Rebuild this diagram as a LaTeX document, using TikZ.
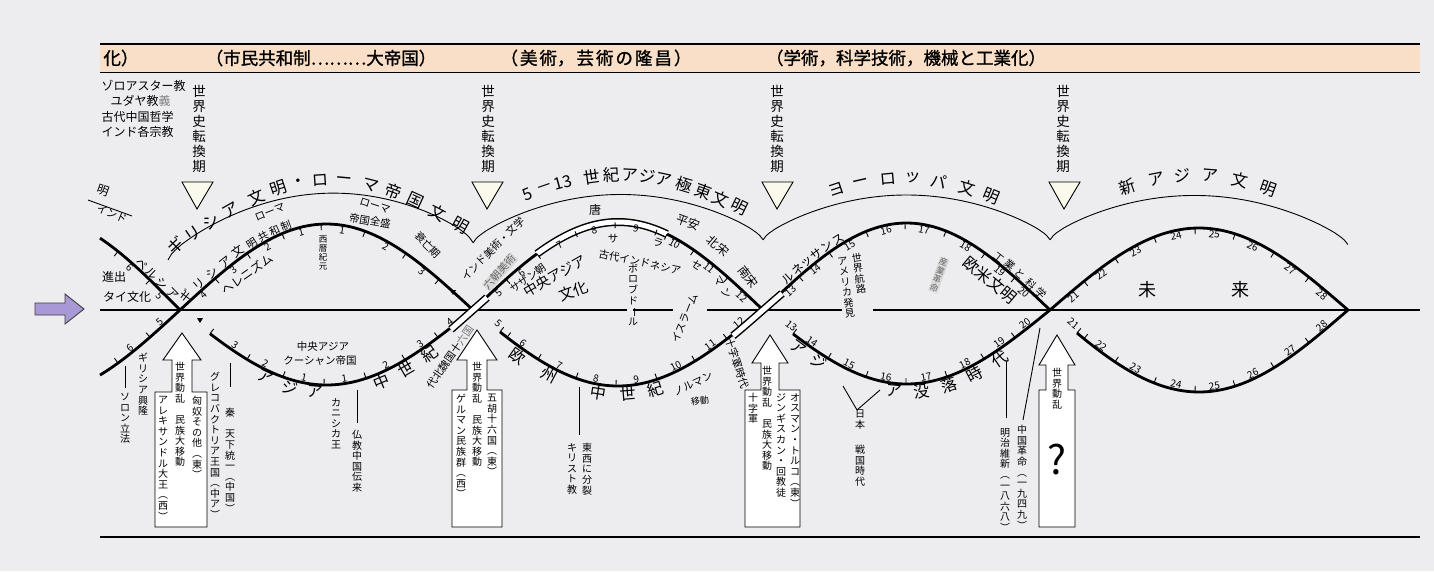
\documentclass[tikz,border=0pt]{standalone}
\usepackage{fontspec}
\setmainfont{Noto Sans CJK JP}
\newfontfamily\vfont{Noto Sans CJK JP}
\newfontfamily\hdfont[FakeBold=1.2]{Noto Sans CJK JP}
\definecolor{bgc}{RGB}{237,237,240}
\definecolor{peach}{RGB}{249,223,200}
\definecolor{purp}{RGB}{168,152,214}
\definecolor{trif}{RGB}{250,250,236}
\makeatletter
\def\vs@a#1{#1\vs@b}
\def\vs@b#1{\ifx\relax#1\else\\#1\expandafter\vs@b\fi}
\newcommand\vtxt[1]{\vs@a#1\relax}
\makeatother
\newcommand\vb{\rotatebox[origin=c]{-90}{ー}}
\newcount\lblc
\newcommand\onarc[8]{%
 \pgfmathsetmacro\myT{((#6)-(#1))/(#3)}%
 \pgfmathsetmacro\myY{(#2)+(#4)*\myT-(#5)*sin(180*\myT)}%
 \pgfmathsetmacro\myA{-atan(((#4)-(#5)*pi*cos(180*\myT))/(#3))}%
 \global\advance\lblc by 1
 \node[rotate=\myA,#7] (l\the\lblc) at (#6,\myY) {#8};}
\newcommand\onL[4]{\expandafter\onarc#1{#2}{#3}{#4}}
\newcommand\tickm[7]{%
 \pgfmathsetmacro\myT{((#6)-(#1))/(#3)}%
 \pgfmathsetmacro\myY{(#2)+(#4)*\myT-(#5)*sin(180*\myT)}%
 \pgfmathsetmacro\myA{-atan(((#4)-(#5)*pi*cos(180*\myT))/(#3))}%
 \draw[tkst] (#6,\myY) -- ++({(#7)*6*sin(\myA)},{(#7)*6*cos(\myA)});}
\newcommand\tkm[3]{\expandafter\tickm#1{#2}{#3}}
\newcommand\darcI[8]{\draw[#8] plot[domain=#6:#7,samples=70,variable=\t] (\t,{(#2)+(#4)*((\t-(#1))/(#3))-(#5)*sin(((\t-(#1))/(#3))*180)});}
\newcommand\darc[4]{\expandafter\darcI#1{#2}{#3}{#4}}
% flattened arc (power 0.7) for the thin outer arcs
\newcommand\dthinI[5]{\draw[thn] plot[domain=0:1,samples=90,variable=\t] ({(#1)+(#3)*\t},{(#2)+(#4)*\t-(#5)*(max(sin(\t*180),0.00001))^0.7});}
\newcommand\dthin[1]{\expandafter\dthinI#1}
% lens parameters: x0, y0, width, end-rise, amplitude
\def\LzU{{-113}{310}{293}{0}{95}}
\def\LzL{{-113}{310}{293}{0}{-86}}
\def\LaU{{180}{310}{293}{0}{86}}
\def\LaL{{180}{310}{293}{0}{-75}}
\def\LbU{{473}{310}{290}{0}{88}}
\def\LbL{{473}{310}{290}{0}{-76}}
\def\LcU{{763}{310}{287}{0}{87}}
\def\LcL{{763}{310}{287}{0}{-74}}
\def\LdU{{1050}{310}{298}{0}{82}}
\def\LdL{{1050}{310}{298}{0}{-82}}
\def\NbX{{473}{310}{290}{0}{82}}
\def\NcX{{763}{310}{287}{0}{80}}
% thin outer arcs
\def\OaU{{168}{260}{305}{-17}{58}}
\def\ObU{{473}{243}{290}{-3}{47}}
\def\OcU{{763}{240}{287}{0}{45}}
\def\OdU{{1050}{240}{298}{5}{47}}
% text lines above the thin arcs
\def\TaU{{170}{250}{300}{-20}{60}}
\def\TbU{{440}{240}{360}{0}{65}}
\def\TcU{{735}{240}{340}{0}{62}}
\def\TdU{{1020}{240}{350}{0}{65}}
\newcommand\wdarrow[8]{% cx, tipy, hw, hb, sw, bb, bx1, bx2
 \draw[fill=white, line width=0.9pt] (#1,#2) -- ({#1+#3},#4) -- ({#1+#5},#4) -- ({#1+#5},#6) -- (#8,#6) -- (#8,527) -- (#7,527) -- (#7,#6) -- ({#1-#5},#6) -- ({#1-#5},#4) -- ({#1-#3},#4) -- cycle;}
\begin{document}
\begin{tikzpicture}[x=1pt,y=-1pt,
 thk/.style={line width=2.8pt},
 thn/.style={line width=0.9pt},
 tkst/.style={line width=0.9pt},
 num/.style={font=\fontsize{10}{11}\selectfont, inner sep=0.3pt, outer sep=1.2pt},
 lab/.style={font=\fontsize{12}{13}\selectfont, inner sep=0.3pt},
 sml/.style={font=\fontsize{10.5}{11.5}\selectfont, inner sep=0.3pt},
 big/.style={font=\fontsize{16}{18}\selectfont, inner sep=0.3pt, outer sep=2pt},
 bigc/.style={font=\fontsize{16.5}{18}\selectfont, inner sep=0pt},
 hd/.style={font=\hdfont\fontsize{17.5}{19}\selectfont, inner sep=0pt},
 vs/.style={align=center, inner sep=0pt, anchor=north, font=\vfont\fontsize{10}{10.6}\selectfont},
 vm/.style={align=center, inner sep=0pt, anchor=north, font=\vfont\fontsize{13.5}{15}\selectfont},
 hl/.style={text=black!60, fill=black!15, inner sep=0.5pt},
 trist/.style={draw, fill=trif, line width=0.9pt}]
\fill[bgc] (0,0) rectangle (1434,571);
\useasboundingbox (0,0) rectangle (1434,571);
% header band
\fill[peach] (100,44) rectangle (1420,72);
\draw[line width=1.6pt] (100,44) -- (1420,44);
\draw[line width=1.6pt] (100,72.5) -- (1420,72.5);
\node[hd] (h1) at (121,58) {化）};
\node[hd] (h2) at (321,58) {（市民共和制………大帝国）};
\node[hd] (h3) at (596,58) {（\kern2pt 美\kern2pt 術，\kern2pt 芸\kern2pt 術\kern2pt の\kern2pt 隆\kern2pt 昌\kern2pt ）};
\node[hd] (h4) at (906,58) {（学術，科学技術，機械と工業化）};
\draw[line width=1.6pt] (100,537) -- (1420,537);
% religions
\node[lab, anchor=west] (r1) at (101,86) {ゾロアスター教};
\node[lab, anchor=west] (r2) at (110,101) {ユダヤ教\textcolor{black!50}{義}};
\node[lab, anchor=west] (r3) at (101,117) {古代中国哲学};
\node[lab, anchor=west] (r4) at (101,132) {インド各宗教};
% turning points
\foreach \cx/\tx [count=\i] in {197/199,487/488,777/777,1064/1063}{
 \node[vm] (tp\i) at (\tx,85) {\vtxt{世界史転換期}};
 \draw[trist] ({\cx-15},182) -- ({\cx+16},182) -- (\cx,209) -- cycle;}
% axis
\draw[line width=1.3pt] (100,310) -- (627,310) (633,310) -- (673,310) (707,310) -- (842,310) (873,310) -- (1420,310);
% purple arrow
\draw[fill=purp, draw=black!75, line width=0.9pt] (35,303) -- (65,303) -- (65,294) -- (84,309) -- (65,324) -- (65,315) -- (35,315) -- cycle;
% outer thin arcs
\draw[thn] (88,200) -- (132,216);
\dthin\OaU
\dthin\ObU
\dthin\OcU
\dthin\OdU
\node[lab, rotate=-20] (m1) at (103,191) {明};
\node[sml, rotate=-22] (m2) at (112,214) {インド};
% outer texts
\foreach \x/\c in {176/ギ,193/リ,211/シ,231/ア,256/文,279/明,299/・,320/ロ,344/ー,371/マ,393/帝,415/国,438/文,461/明}{\onL\TaU{\x}{bigc}{\c}}
\foreach \x/\c in {528/5,545/－,563/13,592/世,611/紀,630/ア,647/ジ,664/ア,684/極,703/東,721/文,739/明}{\onL\TbU{\x}{bigc}{\c}}
\foreach \x/\c in {837/ヨ,861/ー,888/ロ,913/ッ,939/パ,967/文,991/明}{\onL\TcU{\x}{bigc}{\c}}
\foreach \x/\c in {1127/新,1156/ア,1182/ジ,1210/ア,1240/文,1268/明}{\onL\TdU{\x}{bigc}{\c}}
% thick curves
\darc\LzU{100}{180}{thk}
\darc\LzL{100}{180}{thk}
\darc\LaU{180}{473}{thk}
\darc\LaL{210}{473}{thk}
\darc\LbU{473}{763}{thk}
\darc\LbL{500}{763}{thk}
\darc\LcU{763}{1050}{thk}
\darc\LcL{793}{1050}{thk}
\darc\LdU{1050}{1348}{thk}
\darc\LdL{1077}{1348}{thk}
% hooks at starts
\tkm\LaL{210}{-1}
\tkm\LbL{500}{-1}
\tkm\LcL{793}{-1}
\tkm\LdL{1077}{-1}
% period bars
\darc\NbX{451}{487}{line width=8pt}
\darc\NbX{451}{487}{line width=5pt, white}
\darc\LbU{537}{667}{line width=8pt}
\darc\LbU{537}{667}{line width=5pt, white}
\darc\NcX{733}{782}{line width=8pt}
\darc\NcX{733}{782}{line width=5pt, white}
% ticks
\foreach \x in {118,150}{\tkm\LzU{\x}{1}\tkm\LzL{\x}{-1}}
\foreach \x in {215,247,282,321,365,406,439}{\tkm\LaU{\x}{1}}
\foreach \x in {247,283,324,366,405,438}{\tkm\LaL{\x}{-1}}
\foreach \x in {506,537,575,615,657,694,728}{\tkm\LbU{\x}{1}}
\foreach \x in {507,538,576,616,657,695,727}{\tkm\LbL{\x}{-1}}
\foreach \x in {799,829,866,905,946,985,1015}{\tkm\LcU{\x}{1}}
\foreach \x in {828,866,906,947,984,1015}{\tkm\LcL{\x}{-1}}
\foreach \x in {1084,1115,1154,1195,1235,1274,1309}{\tkm\LdU{\x}{1}\tkm\LdL{\x}{-1}}
\tkm\LbU{667}{1}
% numbers
\foreach \x/\n in {133/6,163/5}{\onL\LzU{\x}{num,anchor=north}{\n}}
\foreach \x/\n in {133/6,163/5}{\onL\LzL{\x}{num,anchor=south}{\n}}
\foreach \x/\n in {200/4,230/3,265/2,300/1,343/1,388/2,425/3}{\onL\LaU{\x}{num,anchor=north}{\n}}
\foreach \x/\n in {232/3,263/2,303/1,345/1,388/2,423/3,453/4}{\onL\LaL{\x}{num,anchor=south}{\n}}
\foreach \x/\n in {495/5,518/6,557/7,593/8,637/9,677/10,712/11,745/12}{\onL\LbU{\x}{num,anchor=north}{\n}}
\foreach \x/\n in {495/5,520/6,557/7,595/8,637/9,678/10,713/11,742/12}{\onL\LbL{\x}{num,anchor=south}{\n}}
\foreach \x/\n in {787/13,812/14,847/15,885/16,925/17,968/18,1003/19,1027/20}{\onL\LcU{\x}{num,anchor=north}{\n}}
\foreach \x/\n in {788/13,809/14,847/15,885/16,927/17,967/18,1002/19,1028/20}{\onL\LcL{\x}{num,anchor=south}{\n}}
\foreach \x/\n in {1070/21,1098/22,1133/23,1175/24,1215/25,1255/26,1293/27,1325/28}{\onL\LdU{\x}{num,anchor=north}{\n}\onL\LdL{\x}{num,anchor=south}{\n}}
\fill (197,318) -- (203,318) -- (200,323) -- cycle;
\fill (450,290) -- (456,290) -- (453,295) -- cycle;
% lens 0 labels
\foreach \x/\c in {138/ペ,148/ル,158/シ,168/ア}{\onL\LzU{\x}{lab,anchor=south,outer sep=1pt}{\c}}
\node[lab] (p1) at (114,277) {進出};
\node[lab] (p2) at (127,297) {タイ文化};
% lens 1 labels
\foreach \x/\c in {190/ギ,203/リ,216/シ,229/ア,242/文}{\onL\LaU{\x}{lab,anchor=south,outer sep=1pt}{\c}}
\foreach \x/\c in {255/明,266/共,277/和,288/制}{\onL\LaU{\x}{sml,anchor=south,outer sep=1pt}{\c}}
\node[sml, rotate=22] (g1) at (270,212) {ローマ};
\node[lab, rotate=35] (g2) at (247,274) {ヘレニズム};
\node[sml, rotate=-18] (g3) at (375,206) {ローマ};
\node[sml, rotate=-10] (g4) at (370,221) {帝国全盛};
\node[sml, rotate=-45] (g5) at (428,245) {衰亡期};
\node[vs, font=\vfont\fontsize{8.5}{9}\selectfont] (g6) at (323,236) {\vtxt{西暦紀元}};
\node[sml] (g7) at (323,347) {中央アジア};
\node[sml] (g8) at (320,361) {クーシャン帝国};
\foreach \x/\c in {268/ア,292/ジ,316/ア,378/中,402/世,425/紀}{\onL\LaL{\x}{big,anchor=north,outer sep=1pt}{\c}}
% lens 1 lower verticals
\draw[thn] (125,366) -- (125,388);
\node[vs] (v1) at (125,393) {\vtxt{ソロン立法}};
\node[vs] (v2) at (143,353) {\vtxt{ギリシア興隆}};
\node[vs] (v3) at (215,372) {\vtxt{グレコバクトリア王国︵中ア︶}};
\draw[thn] (230,363) -- (230,387);
\node[vs] (v4) at (230,408) {\vtxt{秦　天下統一︵中国︶}};
\node[vs] (v5) at (336,398) {\vtxt{カニシカ王}};
\draw[thn] (357,390) -- (357,423);
\node[vs] (v6) at (357,430) {\vtxt{仏教中国伝来}};
% lens 2 labels
\node[sml, rotate=45] (a1) at (493,249) {インド美術・文学};
\node[sml, rotate=48, hl] (a2) at (500,272) {六朝美術};
\node[lab] (a3) at (595,210) {唐};
\node[sml, rotate=35] (a4) at (528,278) {サザン朝};
\node[lab, font=\fontsize{14}{15}\selectfont, rotate=30] (a5) at (555,276) {中央アジア};
\node[lab, font=\fontsize{15}{16}\selectfont, rotate=20] (a6) at (574,291) {文化};
\node[sml] (a7) at (613,239) {サ};
\node[sml, rotate=-12] (a8) at (640,262) {古代インドネシア};
\node[vs] (a9) at (633,264) {\vtxt{ボロブド\vb ル}};
\node[sml, rotate=-20] (a10) at (658,243) {ラ};
\node[sml, rotate=-35] (a11) at (697,265) {セ};
\node[sml, rotate=-60] (a12b) at (719,281) {マ};
\node[sml, rotate=-60] (a12) at (726,293) {ン};
\node[sml, rotate=68] (a13) at (685,318) {イスラーム};
\node[lab, rotate=-20] (a14) at (688,222) {平安};
\node[lab, rotate=-40] (a15) at (718,246) {北宋};
\node[lab, rotate=-52] (a16) at (748,277) {南宋};
\node[sml, rotate=55] (a17) at (450,357) {代北魏国十\textcolor{black!55}{六国}};
% lens 2 lower
\foreach \x/\c in {523/欧,553/州,600/中,627/世,653/紀}{\onL\LbL{\x}{big,anchor=north,outer sep=1pt}{\c}}
\node[sml, rotate=25] (b1) at (693,384) {ノルマン};
\node[sml, font=\fontsize{9}{10}\selectfont, rotate=10] (b2) at (700,401) {移動};
\node[sml, rotate=-72] (b3) at (737,363) {十字軍時代};
\draw[thn] (579,387) -- (579,435);
\node[vs] (b4) at (587,443) {\vtxt{東西に分裂}};
\node[vs] (b5) at (572,443) {\vtxt{キリスト教}};
% lens 3 upper
\foreach \x/\c in {792/ル,802/ネ,811/ッ,820/サ,830/ン,841/ス}{\onL\LcU{\x}{lab,anchor=south,outer sep=1pt}{\c}}
\node[vs, rotate=8] (c1) at (856,253) {\vtxt{世界航路}};
\node[vs, rotate=8] (c2) at (842,257) {\vtxt{アメリカ発見}};
\node[vs, font=\vfont\fontsize{8.5}{9}\selectfont, rotate=-20, hl] (c3) at (945,258) {\vtxt{産業革命}};
\foreach \x/\c in {996/工,1006/業,1016/と,1027/科,1037/学}{\onL\LcU{\x}{sml,anchor=south,outer sep=1pt}{\c}}
\node[big, font=\fontsize{16}{17}\selectfont, rotate=-40] (c4) at (990,280) {欧米文明};
% lens 3 lower
\foreach \x/\c in {803/ア,823/ジ,895/ア,921/没,946/落,971/時,995/代}{\onL\LcL{\x}{big,anchor=north,outer sep=1pt}{\c}}
\draw[thn] (843,386) -- (857,410) -- (880,390);
\node[vs] (d1) at (860,410) {\vtxt{日本}};
\node[vs] (d2) at (860,445) {\vtxt{戦国時代}};
\draw[thn] (1006,362) -- (1006,418);
\node[vs] (d3) at (1005,428) {\vtxt{明治維新︵一八六八︶}};
\draw[thn] (1040,328) -- (1023,420);
\node[vs] (d4) at (1022,425) {\vtxt{中国革命︵一九四九︶}};
% lens 4
\node[big, font=\fontsize{18}{19}\selectfont] (e1) at (1147,290) {未};
\node[big, font=\fontsize{18}{19}\selectfont] (e2) at (1240,290) {来};
% world upheaval arrows
\wdarrow{182}{333}{19}{360}{10}{392}{155}{207}
\wdarrow{477}{330}{20}{360}{10}{390}{452}{502}
\wdarrow{770}{335}{18}{363}{9}{390}{745}{800}
\wdarrow{1057}{335}{18}{365}{11}{390}{1039}{1075}
\node[vs] (w1a) at (180,362) {\vtxt{世界動乱　民族大移動}};
\node[vs] (w1b) at (197,396) {\vtxt{匈奴その他︵東︶}};
\node[vs] (w1c) at (163,396) {\vtxt{アレキサンドル大王︵西︶}};
\node[vs] (w2a) at (477,362) {\vtxt{世界動乱　民族大移動}};
\node[vs] (w2b) at (492,394) {\vtxt{五胡十六国︵東︶}};
\node[vs] (w2c) at (461,394) {\vtxt{ゲルマン民族群︵西︶}};
\node[vs] (w3a) at (767,366) {\vtxt{世界動乱　民族大移動}};
\node[vs] (w3b) at (795,393) {\vtxt{オスマン・トルコ︵東︶}};
\node[vs] (w3c) at (781,393) {\vtxt{ジンギスカン・回教徒}};
\node[vs] (w3d) at (753,393) {\vtxt{十字軍}};
\node[vs] (w4a) at (1057,368) {\vtxt{世界動乱}};
\node[font=\fontsize{40}{44}\selectfont] (w4b) at (1057,460) {?};
\end{tikzpicture}
\end{document}
